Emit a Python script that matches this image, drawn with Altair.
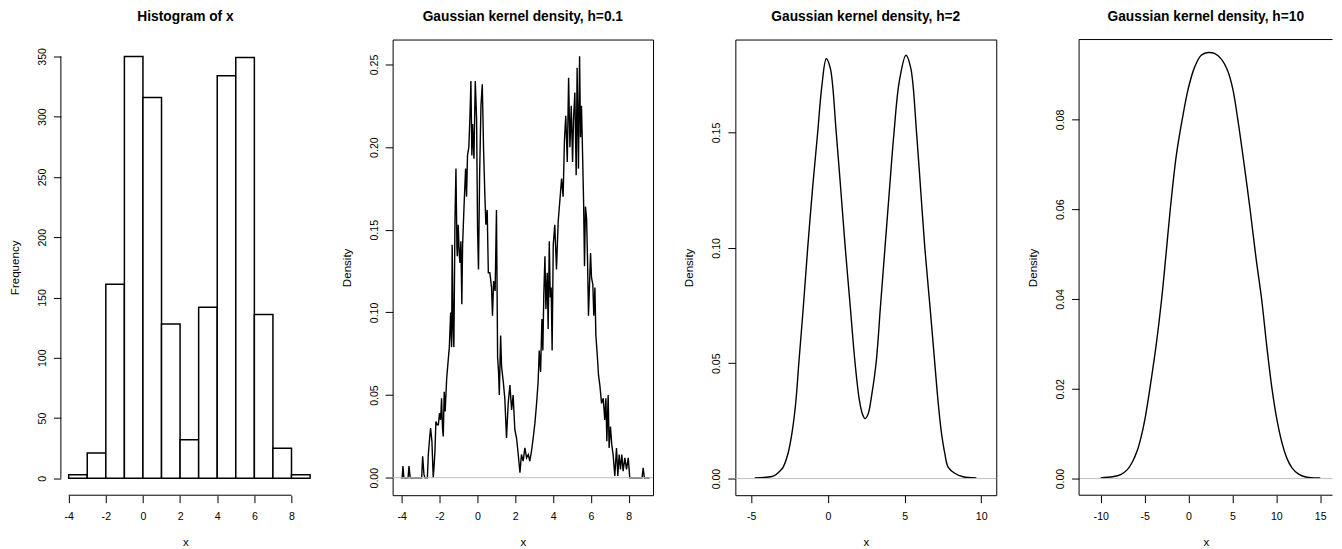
import altair as alt
import pandas as pd

FONT = "Liberation Sans"
H = 456.7

# ---------------- data ----------------
hist_lo = [-4, -3, -2, -1, 0, 1, 2, 3, 4, 5, 6, 7, 8]
hist_hi = [-3, -2, -1, 0, 1, 2, 3, 4, 5, 6, 7, 8, 9]
hist_count = [3, 21, 161, 350, 316, 128, 32, 142, 334, 349, 136, 25, 3]
hist_xticks = [-4, -2, 0, 2, 4, 6, 8]
hist_yticks = [0, 50, 100, 150, 200, 250, 300, 350]

d01_x = [-4.04, -3.97, -3.93, -3.88, -3.66, -3.61, -3.55, -2.94, -2.89, -2.82, -2.77, -2.64,
         -2.59, -2.52, -2.47, -2.40, -2.33, -2.28, -2.24, -2.19, -2.12, -2.06, -2.00, -1.94,
         -1.89, -1.84, -1.80, -1.75, -1.70, -1.62, -1.54, -1.48, -1.41, -1.36, -1.33, -1.28,
         -1.24, -1.18, -1.13, -1.08, -1.06, -1.01, -0.96, -0.92, -0.87, -0.82, -0.78, -0.74,
         -0.69, -0.62, -0.57, -0.52, -0.45, -0.39, -0.34, -0.29, -0.25, -0.18, -0.11, -0.04,
         0.01, 0.06, 0.12, 0.19, 0.26, 0.33, 0.40, 0.45, 0.52, 0.58, 0.66, 0.75, 0.80, 0.86,
         0.94, 1.01, 1.07, 1.12, 1.16, 1.23, 1.28, 1.37, 1.45, 1.54, 1.63, 1.72, 1.81, 1.89,
         1.98, 2.07, 2.16, 2.25, 2.33, 2.42, 2.51, 2.60, 2.69, 2.77, 2.86, 2.95, 3.04, 3.13,
         3.21, 3.27, 3.34, 3.41, 3.46, 3.51, 3.57, 3.62, 3.69, 3.74, 3.80, 3.85, 3.90, 3.95,
         4.01, 4.09, 4.18, 4.27, 4.36, 4.45, 4.53, 4.60, 4.67, 4.75, 4.82, 4.89, 4.96, 5.03,
         5.08, 5.15, 5.22, 5.27, 5.34, 5.40, 5.45, 5.50, 5.55, 5.61, 5.66, 5.71, 5.77, 5.82,
         5.87, 5.92, 5.98, 6.03, 6.10, 6.15, 6.21, 6.26, 6.33, 6.40, 6.47, 6.56, 6.65, 6.73,
         6.79, 6.84, 6.91, 6.96, 7.03, 7.10, 7.17, 7.26, 7.35, 7.42, 7.49, 7.56, 7.63, 7.70,
         7.79, 7.88, 7.97, 8.05, 8.14, 8.70, 8.76, 8.82, 9.10]
d01_y = [0, 0, 0.007, 0, 0, 0.007, 0, 0, 0.013, 0.002, 0, 0,
         0.014, 0.024, 0.030, 0.022, 0, 0.008, 0.016, 0.034, 0.032, 0.032, 0.039, 0.035,
         0.048, 0.030, 0.025, 0.052, 0.040, 0.060, 0.071, 0.079, 0.100, 0.079, 0.141, 0.090,
         0.079, 0.157, 0.187, 0.140, 0.134, 0.153, 0.136, 0.130, 0.143, 0.105, 0.140, 0.153,
         0.168, 0.187, 0.170, 0.195, 0.200, 0.219, 0.240, 0.195, 0.214, 0.193, 0.240, 0.217,
         0.151, 0.126, 0.183, 0.225, 0.238, 0.198, 0.170, 0.153, 0.162, 0.124, 0.124, 0.115, 0.098, 0.119,
         0.113, 0.162, 0.073, 0.064, 0.050, 0.086, 0.067, 0.058, 0.048, 0.024, 0.045, 0.056, 0.041, 0.050,
         0.029, 0.024, 0.014, 0.003, 0.014, 0.010, 0.018, 0.012, 0.014, 0.010, 0.016, 0.024, 0.033, 0.045,
         0.058, 0.077, 0.064, 0.096, 0.077, 0.111, 0.134, 0.102, 0.124, 0.090, 0.143, 0.109, 0.115, 0.077,
         0.141, 0.153, 0.126, 0.155, 0.168, 0.181, 0.170, 0.204, 0.219, 0.191, 0.242, 0.200, 0.225, 0.191,
         0.217, 0.233, 0.183, 0.248, 0.187, 0.255, 0.206, 0.225, 0.200, 0.168, 0.128, 0.164, 0.157, 0.132,
         0.098, 0.115, 0.136, 0.121, 0.117, 0.098, 0.115, 0.086, 0.075, 0.062, 0.056, 0.045, 0.048, 0.035,
         0.048, 0.022, 0.050, 0.018, 0.031, 0.020, 0.014, 0.001, 0.018, 0.001, 0.014, 0.005, 0.014, 0.004,
         0.012, 0.005, 0.012, 0, 0, 0, 0.006, 0, 0]

d2_x = [-4.78, -4.18, -3.53, -3.10, -2.92, -2.60, -2.34, -2.10, -1.90, -1.60, -1.32, -1.00,
        -0.67, -0.40, -0.11, 0.15, 0.54, 0.84, 1.13, 1.45, 1.77, 2.05, 2.25, 2.42, 2.62,
        2.85, 3.14, 3.43, 3.72, 4.01, 4.31, 4.65, 5.09, 5.40, 5.78, 6.05, 6.32, 6.65, 6.97,
        7.19, 7.40, 7.62, 7.84, 8.27, 8.81, 9.68]
d2_y = [0.0003, 0.0005, 0.0012, 0.0035, 0.005, 0.011, 0.020, 0.033, 0.050, 0.075, 0.100, 0.126,
        0.150, 0.170, 0.182, 0.178, 0.150, 0.125, 0.100, 0.075, 0.050, 0.034, 0.028, 0.026, 0.028,
        0.036, 0.050, 0.075, 0.100, 0.125, 0.150, 0.172, 0.1835, 0.178, 0.150, 0.125, 0.100, 0.075, 0.050,
        0.033, 0.020, 0.011, 0.005, 0.0023, 0.0008, 0.0003]

d10_x = [-10.0, -8.67, -7.73, -6.97, -6.40, -5.83, -5.34, -4.89, -4.51, -4.24, -3.67, -3.07,
         -2.54, -2.08, -1.40, -0.72, -0.04, 0.68, 1.44, 2.20, 2.95, 3.71, 4.47, 5.04, 5.61,
         6.36, 7.01, 7.69, 8.33, 8.94, 9.51, 10.08, 10.64, 11.21, 11.78, 12.54, 13.48, 15.0]
d10_y = [0.00015, 0.0004, 0.0009, 0.0020, 0.0037, 0.0063, 0.0098, 0.0141, 0.0187, 0.0222, 0.0300, 0.0399,
         0.0505, 0.0600, 0.0719, 0.0800, 0.0868, 0.0916, 0.0943, 0.0949, 0.0947, 0.0935, 0.0908, 0.0868, 0.0800,
         0.0696, 0.0600, 0.0491, 0.0399, 0.0290, 0.0200, 0.0130, 0.0080, 0.0045, 0.0024, 0.0010, 0.0003, 0.00015]


def x_axis(ticks):
    return alt.Axis(values=ticks, title="x", labelExpr="toString(datum.value)")


def y_axis(ticks, title, fmt):
    return alt.Axis(values=ticks, title=title, labelExpr="format(datum.value, '%s')" % fmt)


# ---------------- histogram ----------------
W1 = 249.8
hx = alt.Scale(domain=[-4.42, -4.42 + W1 / 18.61], nice=False, zero=False)
hy = alt.Scale(domain=[-14, 364], nice=False, zero=False)
hxa = x_axis(hist_xticks)
hya = y_axis(hist_yticks, "Frequency", "d")
hdf = pd.DataFrame({"lo": hist_lo, "hi": hist_hi, "n": hist_count})
bars = alt.Chart(hdf).mark_rect(fill="white", stroke="black", strokeWidth=1.5).encode(
    x=alt.X("lo:Q", scale=hx, axis=hxa),
    x2="hi:Q",
    y=alt.Y("n:Q", scale=hy, axis=hya),
    y2=alt.datum(0),
)
xline = alt.Chart(pd.DataFrame({"lo": [hist_xticks[0]], "hi": [hist_xticks[-1]]})).mark_rule(
    color="black", strokeWidth=1).encode(
    x=alt.X("lo:Q", scale=hx, axis=hxa), x2="hi:Q", y=alt.value(H))
yline = alt.Chart(pd.DataFrame({"n": [hist_yticks[0]], "m": [hist_yticks[-1]]})).mark_rule(
    color="black", strokeWidth=1).encode(
    y=alt.Y("n:Q", scale=hy, axis=hya), y2="m:Q", x=alt.value(0))
p1 = alt.layer(bars, xline, yline).properties(
    width=W1, height=H, title="Histogram of x",
    view=alt.ViewBackground(stroke="transparent"))


# ---------------- density panels ----------------
def density_panel(xs, ys, title, xdom, ydom, xticks, yticks, w, interp, sw, open_right=False):
    xs_ = alt.Scale(domain=xdom, nice=False, zero=False)
    ys_ = alt.Scale(domain=ydom, nice=False, zero=False)
    ya = y_axis(yticks, "Density", ".2f")
    df = pd.DataFrame({"x": xs, "y": ys})
    line = alt.Chart(df).mark_line(color="black", strokeWidth=sw, interpolate=interp).encode(
        x=alt.X("x:Q", scale=xs_, axis=x_axis(xticks)),
        y=alt.Y("y:Q", scale=ys_, axis=ya),
    )
    zero = alt.Chart(pd.DataFrame({"y": [0]})).mark_rule(color="#bebebe", strokeWidth=1).encode(
        y=alt.Y("y:Q", scale=ys_, axis=ya))
    layers = [line, zero]
    props = dict(width=w, height=H, title=title)
    if open_right:
        # frame on three sides only: the right edge lies outside the picture
        frame = pd.DataFrame({"k": [0]})
        top = alt.Chart(frame).mark_rule(color="black", strokeWidth=1).encode(
            x=alt.value(0), x2=alt.value(w), y=alt.value(0))
        bottom = alt.Chart(frame).mark_rule(color="black", strokeWidth=1).encode(
            x=alt.value(0), x2=alt.value(w), y=alt.value(H))
        left = alt.Chart(frame).mark_rule(color="black", strokeWidth=1).encode(
            x=alt.value(0), y=alt.value(0), y2=alt.value(H))
        layers += [top, bottom, left]
        props["view"] = alt.ViewBackground(stroke="transparent")
    return alt.layer(*layers).properties(**props)


p2 = density_panel(d01_x, d01_y, "Gaussian kernel density, h=0.1", [-4.475, 9.28], [-0.0106, 0.2651],
                   [-4, -2, 0, 2, 4, 6, 8], [0, 0.05, 0.10, 0.15, 0.20, 0.25], 261, "linear", 1.4)
p3 = density_panel(d2_x, d2_y, "Gaussian kernel density, h=2", [-6.04, 10.98], [-0.0072, 0.1903],
                   [-5, 0, 5, 10], [0, 0.05, 0.10, 0.15], 261.5, "catmull-rom", 1.4)
p4 = density_panel(d10_x, d10_y, "Gaussian kernel density, h=10", [-12.47, 16.4], [-0.0037, 0.0978],
                   [-10, -5, 0, 5, 10, 15], [0, 0.02, 0.04, 0.06, 0.08], 254, "catmull-rom", 1.4,
                   open_right=True)

chart = alt.hconcat(p1, p2, p3, p4, spacing=82.5, bounds="flush").properties(
    padding={"left": 0, "top": 0, "right": 0, "bottom": 0},
    background="white",
).configure_view(
    stroke="black", strokeWidth=1
).configure_title(
    font=FONT, fontSize=13.8, fontWeight="bold", color="black", offset=15.6,
    baseline="alphabetic", anchor="middle"
).configure_axis(
    domain=False, grid=False, tickColor="black", tickSize=7.5, tickWidth=1,
    labelColor="black", labelFont=FONT, labelFontSize=10.6, labelFlush=False, labelOverlap=False,
    titleFont=FONT, titleFontSize=11.6, titleFontWeight="normal", titleColor="black"
).configure_axisX(
    labelBaseline="alphabetic", labelPadding=17.3, titleY=50.7, titleBaseline="alphabetic"
).configure_axisY(
    labelAngle=270, labelAlign="center", labelBaseline="alphabetic", labelPadding=8.1,
    titleAngle=270, titleX=-42.7, titleY=H / 2, titleAlign="center", titleBaseline="alphabetic"
)

chart.save("out.html", embed_options={"renderer": "svg", "actions": False})
